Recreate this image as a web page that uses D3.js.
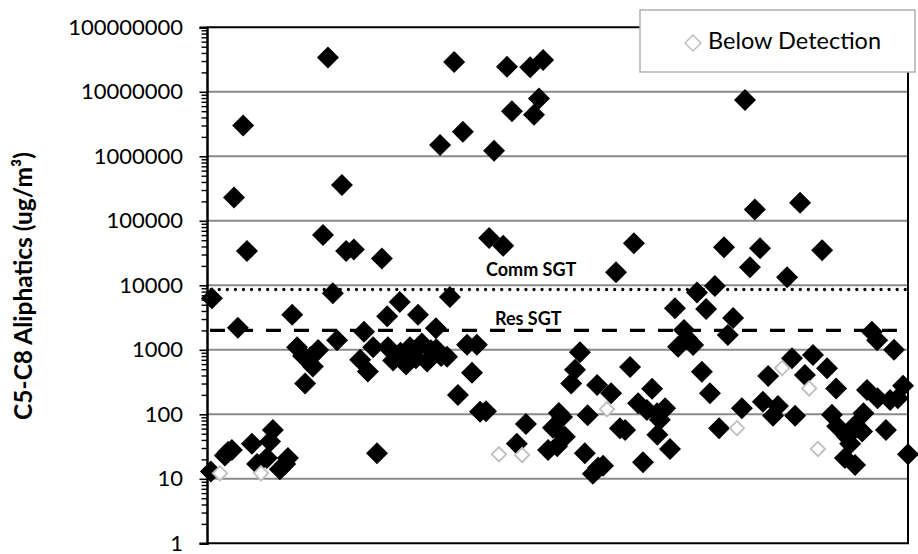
<!DOCTYPE html>
<html><head><meta charset="utf-8">
<script src="https://cdn.jsdelivr.net/npm/d3@7"></script>
<style>body{margin:0;background:#fff}svg{display:block}</style>
</head><body>
<svg id="chart" width="918" height="554"></svg>
<script>
// ---- data ----
const detIdx = [1.1,1.4,5.1,6.0,7.1,7.7,8.8,10.3,11.4,12.8,14.3,17.1,18.0,18.8,20.8,22.3,23.1,24.3,25.7,27.4,28.0,29.7,30.2,31.7,33.1,34.5,35.9,37.1,38.5,39.7,41.9,43.7,44.8,45.9,47.4,48.5,49.9,51.4,51.6,53.1,55.0,55.2,56.8,57.9,59.6,60.2,61.3,62.8,63.9,65.3,65.4,66.5,66.8,68.5,69.3,70.5,71.6,73.0,74.2,75.6,77.0,77.9,79.6,80.5,81.9,84.5,85.6,87.0,88.4,91.0,92.2,93.3,94.7,95.9,97.3,98.7,99.9,100.4,101.3,102.1,103.9,105.0,106.4,107.8,108.6,110.1,111.3,111.6,113.0,115.3,116.7,117.8,119.3,120.7,121.8,123.0,124.4,125.5,127.0,128.4,128.5,129.2,130.7,132.1,133.5,134.4,136.1,137.0,138.7,139.8,141.2,142.4,143.5,144.9,146.1,147.5,148.6,150.1,152.6,153.5,154.9,156.3,157.8,158.6,160.1,161.5,162.9,165.5,166.9,167.8,169.2,170.6,172.9,175.5,176.9,178.3,179.5,179.8,182.0,182.6,183.5,184.9,185.0,186.9,187.3,188.3,189.7,191.2,191.3,193.7,194.9,196.0,197.1,198.6,200.0];
const detVal = [13,6300,23,26,28,230000,2200,3000000,34000,35,17,21,38,57,14,17,21,3500,1100,800,300,780,550,990,60000,34000000,7500,1400,360000,34000,36000,700,1900,460,1100,25,26000,3300,1100,680,5500,900,590,1100,740,3500,1250,660,980,2150,1020,1500000,800,780,6600,29000000,200,2400000,1200,440,1200,110,112,54000,1220000,41000,24500000,5000000,35,71,24000000,4400000,7900000,31000000,28,62,32,105,91,45,300,490,920,25,97,12,285,15,16,212,16000,61,57,540,45000,148,18,117,250,104,48,82,124,29,4400,1120,2030,1500,1190,7700,457,4300,212,9750,61,38800,1700,3100,124,7460000,19000,150000,37500,157,393,95,135,13300,740,95,190000,407,830,35000,516,98,252,65,21,45,35,16.4,68,54,104,238,1900,1410,177,57,167,1000,177,276,24];
const bdlIdx = [3.7,15.4,83.3,89.9,114.1,151.2,164.1,171.8,174.3];
const bdlVal = [12.2,12.2,24,23.4,120,61,520,252,29];
const yTicks = [1,10,100,1000,10000,100000,1000000,10000000,100000000];
const commSGT = 8600, resSGT = 2000;
const commLabel = "Comm SGT", resLabel = "Res SGT";
const legendLabel = "Below Detection";
const yTitle = "C5-C8 Aliphatics (ug/m³)";

// ---- layout ----
const L = 207, R = 908, T = 27.3, B = 543.3;
const FONT = "Lato, 'Open Sans', 'Liberation Sans', sans-serif";
const svg = d3.select("#chart");
const x = d3.scaleLinear().domain([0, 200]).range([L, R]);
const y = d3.scaleLog().domain([1, 1e8]).range([B, T]);
const diamond = r => `M0,${-r}L${r},0L0,${r}L${-r},0Z`;

// gridlines
svg.append("g").selectAll("line").data(yTicks.slice(1, -1)).join("line")
  .attr("x1", L).attr("x2", R).attr("y1", d => y(d)).attr("y2", d => y(d))
  .attr("stroke", "#8a8a8a").attr("stroke-width", 2);

// threshold lines
svg.append("line").attr("x1", 211.2).attr("x2", R).attr("y1", y(commSGT)).attr("y2", y(commSGT))
  .attr("stroke", "#000").attr("stroke-width", 3.3).attr("stroke-linecap", "round")
  .attr("stroke-dasharray", "0 8.07");
svg.append("line").attr("x1", L).attr("x2", R).attr("y1", y(resSGT)).attr("y2", y(resSGT))
  .attr("stroke", "#000").attr("stroke-width", 3.2)
  .attr("stroke-dasharray", "15 13").attr("stroke-dashoffset", 25);

// threshold labels
svg.append("text").attr("x", 486).attr("y", 276).text(commLabel)
  .attr("font-family", FONT).attr("font-weight", "bold").attr("font-size", 18).attr("fill", "#000");
svg.append("text").attr("x", 495).attr("y", 325).text(resLabel)
  .attr("font-family", FONT).attr("font-weight", "bold").attr("font-size", 18).attr("fill", "#000");

// detected points
const det = detIdx.map((d, i) => ({i: d, v: detVal[i]}));
svg.append("g").selectAll("path").data(det).join("path")
  .attr("d", diamond(11))
  .attr("transform", d => `translate(${x(d.i)},${y(d.v)})`)
  .attr("fill", "#000");

// below detection points
const bdl = bdlIdx.map((d, i) => ({i: d, v: bdlVal[i]}));
svg.append("g").selectAll("path").data(bdl).join("path")
  .attr("d", diamond(7.2))
  .attr("transform", d => `translate(${x(d.i)},${y(d.v)})`)
  .attr("fill", "#fff").attr("stroke", "#bfbfbf").attr("stroke-width", 1.8);

// plot border (top/right/bottom)
svg.append("path").attr("d", `M${L},${T}H${R}V${B}H${L}`)
  .attr("fill", "none").attr("stroke", "#000").attr("stroke-width", 2);

// minor ticks
const minor = [];
for (let e = 0; e < 8; e++) for (let k = 2; k <= 9; k++) minor.push(k * Math.pow(10, e));
svg.append("g").attr("transform", `translate(${L},0)`)
  .call(d3.axisLeft(y).tickValues(minor).tickSize(5.5).tickFormat(""))
  .call(g => g.select(".domain").remove())
  .call(g => g.selectAll("line").attr("stroke", "#000").attr("stroke-width", 1.4));

// major axis
svg.append("g").attr("transform", `translate(${L},0)`)
  .call(d3.axisLeft(y).tickValues(yTicks).tickSize(7.5).tickPadding(16.5).tickFormat(d3.format("d")))
  .call(g => g.select(".domain").attr("stroke", "#000").attr("stroke-width", 2.5))
  .call(g => g.selectAll(".tick line").attr("stroke", "#000").attr("stroke-width", 1.6))
  .call(g => g.selectAll("text").attr("font-family", FONT).attr("font-size", 22).attr("fill", "#000"));

// y title
svg.append("text").attr("transform", `translate(32,286) rotate(-90)`)
  .attr("text-anchor", "middle").text(yTitle)
  .attr("font-family", FONT).attr("font-weight", "bold").attr("font-size", 24.5).attr("fill", "#000");

// legend
const lg = svg.append("g");
lg.append("rect").attr("x", 640).attr("y", 10).attr("width", 275).attr("height", 62)
  .attr("fill", "#fff").attr("stroke", "#b0b0b0").attr("stroke-width", 1.5);
lg.append("path").attr("d", diamond(8)).attr("transform", "translate(693,43)")
  .attr("fill", "#fff").attr("stroke", "#bfbfbf").attr("stroke-width", 1.5);
lg.append("text").attr("x", 708).attr("y", 48.5).text(legendLabel)
  .attr("font-family", FONT).attr("font-size", 23.5).attr("fill", "#000");
</script>
</body></html>
